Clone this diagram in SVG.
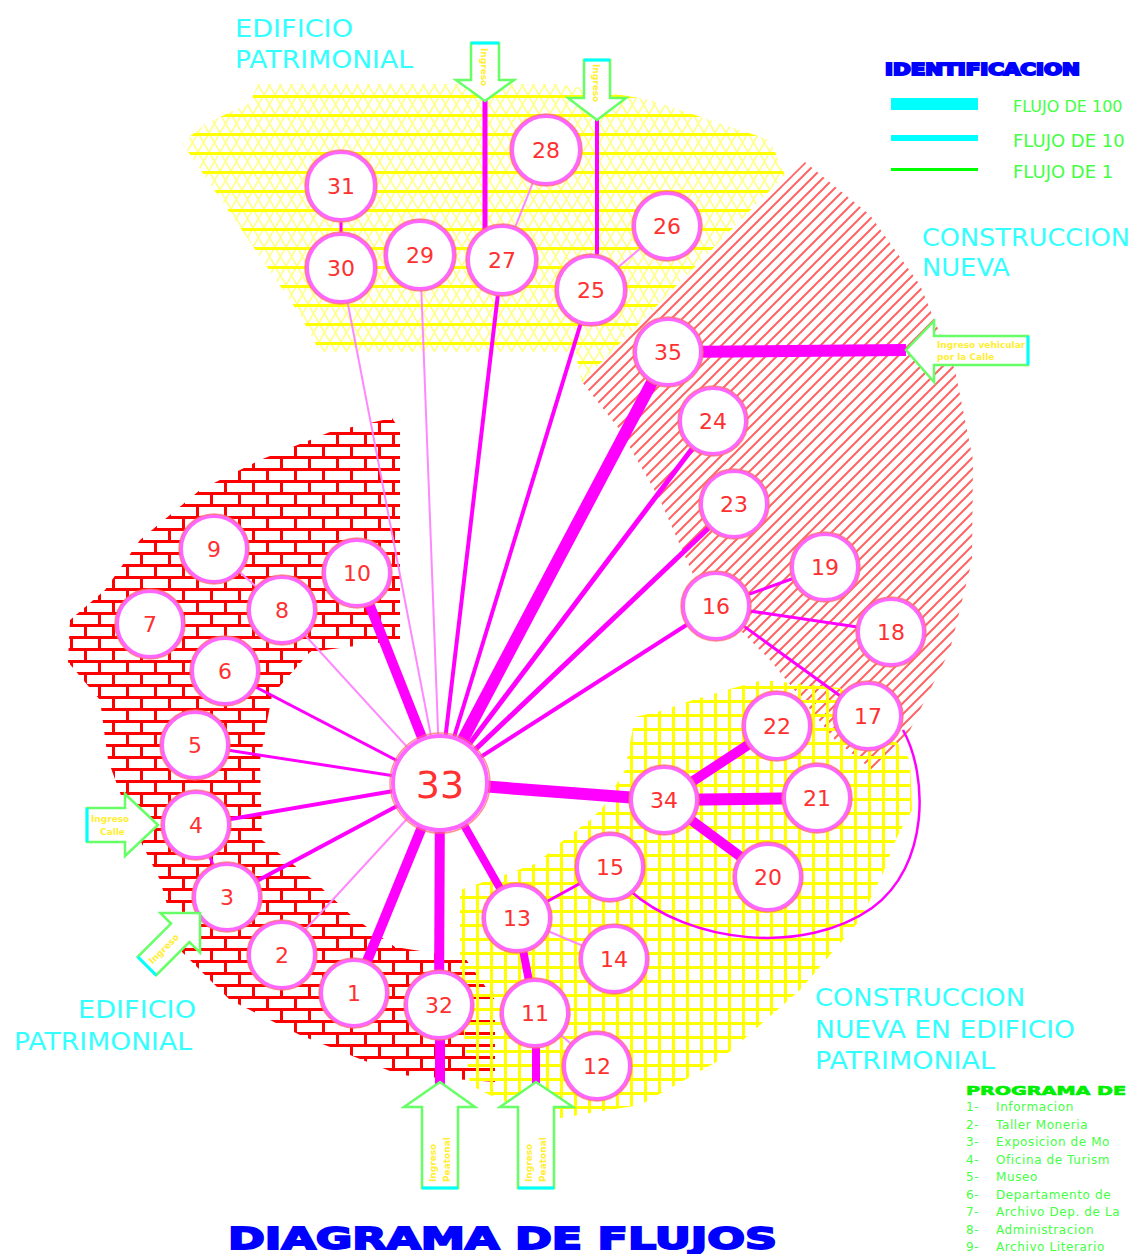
<svg xmlns="http://www.w3.org/2000/svg" width="1133" height="1254" viewBox="0 0 1133 1254">
<defs>
<style>
.nd circle.a{fill:#fff;stroke:#ff66ff;stroke-width:4}
.nd circle.b{fill:none;stroke:#ff7070;stroke-width:1.5;opacity:.75}
.nd text{font-family:"DejaVu Sans",sans-serif;font-size:22px;fill:#ff3030;text-anchor:middle}
.cx line{stroke:#ff00ff;stroke-linecap:butt}
.cx .lt{stroke:#ff88ff;stroke-width:2}
.lbl{font-family:"DejaVu Sans",sans-serif;font-size:25px;fill:#33ffff}
.arr{fill:#fff;stroke:#66ff66;stroke-width:2.5;stroke-linejoin:miter}
.cy{stroke:#00ffff;stroke-width:3}
.at{font-family:"DejaVu Sans",sans-serif;font-size:9px;font-weight:bold;fill:#ffee33}
.leg{font-family:"DejaVu Sans",sans-serif;font-size:18px;fill:#44ff44}
.pg{font-family:"DejaVu Sans",sans-serif;font-size:12px;fill:#44ff44;letter-spacing:.6px}
</style>
<pattern id="pYel" width="22" height="19" patternUnits="userSpaceOnUse">
<path d="M0,19 L11,0 L22,19 M0,0 L11,19 L22,0" stroke="#ffff88" stroke-width="1.6" fill="none"/>
<line x1="0" y1="1.5" x2="22" y2="1.5" stroke="#ffff00" stroke-width="3"/>
</pattern>
<pattern id="pHatch" width="11" height="11" patternUnits="userSpaceOnUse">
<path d="M-2,13 L13,-2 M-7,7 L7,-7 M4,18 L18,4" stroke="#ff6464" stroke-width="2" fill="none"/>
</pattern>
<pattern id="pBrick" width="28" height="24" patternUnits="userSpaceOnUse">
<path d="M0,1.5 H28 M0,13.5 H28 M1.5,0 V13.5 M15.5,12 V24" stroke="#ff0000" stroke-width="3" fill="none"/>
</pattern>
<pattern id="pGrid" width="14" height="14" patternUnits="userSpaceOnUse">
<path d="M0,1.5 H14 M1.5,0 V14" stroke="#ffff00" stroke-width="3" fill="none"/>
</pattern>
</defs>
<rect width="1133" height="1254" fill="#fff"/>

<g id="zones">
<polygon points="258,84 560,84 650,100 770,140 785,175 582,382 575,352 320,352 300,315 182,143 205,124 250,103" fill="url(#pYel)"/>
<polygon points="805,162 870,215 920,285 955,370 973,460 972,560 950,650 910,730 875,772 835,740 770,660 700,590 660,500 620,430 582,382" fill="url(#pHatch)"/>
<polygon points="392,418 400,430 400,640 310,652 272,695 260,760 262,840 313,880 353,917 395,947 465,958 495,1000 495,1082 400,1075 300,1035 230,1000 180,950 160,880 130,820 108,760 100,700 68,662 70,620 105,590 140,540 200,490 260,460 330,432" fill="url(#pBrick)"/>
<polygon points="460,890 510,873 537,863 560,843 590,820 603,807 625,770 635,717 657,712 693,700 737,687 763,680 840,688 880,720 910,760 912,810 897,837 883,873 860,920 800,990 720,1060 640,1105 560,1118 500,1100 470,1085 460,1000" fill="url(#pGrid)"/>
</g>

<g id="connectors" class="cx">
<line x1="440" y1="783" x2="341" y2="268" class="lt"/>
<line x1="440" y1="783" x2="420" y2="255" class="lt"/>
<line x1="440" y1="783" x2="282" y2="610" class="lt"/>
<line x1="440" y1="783" x2="282" y2="955" class="lt"/>
<line x1="440" y1="783" x2="502" y2="260" stroke-width="4"/>
<line x1="440" y1="783" x2="591" y2="290" stroke-width="4"/>
<line x1="440" y1="783" x2="668" y2="352" stroke-width="12"/>
<line x1="440" y1="783" x2="713" y2="421" stroke-width="5"/>
<line x1="440" y1="783" x2="734" y2="504" stroke-width="5"/>
<line x1="440" y1="783" x2="716" y2="606" stroke-width="4"/>
<line x1="440" y1="783" x2="664" y2="800" stroke-width="12"/>
<line x1="440" y1="783" x2="517" y2="918" stroke-width="8"/>
<line x1="440" y1="783" x2="439" y2="1005" stroke-width="10"/>
<line x1="440" y1="783" x2="354" y2="993" stroke-width="10"/>
<line x1="440" y1="783" x2="357" y2="573" stroke-width="10"/>
<line x1="440" y1="783" x2="225" y2="671" stroke-width="3"/>
<line x1="440" y1="783" x2="195" y2="745" stroke-width="3"/>
<line x1="440" y1="783" x2="196" y2="825" stroke-width="4"/>
<line x1="440" y1="783" x2="227" y2="897" stroke-width="4"/>
<line x1="341" y1="186" x2="341" y2="268" stroke-width="3"/>
<line x1="546" y1="150" x2="502" y2="260" class="lt"/>
<line x1="667" y1="226" x2="591" y2="290" class="lt"/>
<line x1="214" y1="549" x2="282" y2="610" class="lt"/>
<line x1="196" y1="825" x2="227" y2="897" stroke-width="3"/>
<line x1="716" y1="606" x2="825" y2="567" stroke-width="3"/>
<line x1="716" y1="606" x2="891" y2="632" stroke-width="3"/>
<line x1="716" y1="606" x2="868" y2="716" stroke-width="3"/>
<line x1="664" y1="800" x2="777" y2="726" stroke-width="10"/>
<line x1="664" y1="800" x2="817" y2="798" stroke-width="12"/>
<line x1="664" y1="800" x2="768" y2="877" stroke-width="10"/>
<line x1="517" y1="918" x2="610" y2="867" stroke-width="3"/>
<line x1="517" y1="918" x2="614" y2="959" class="lt"/>
<line x1="517" y1="918" x2="535" y2="1013" stroke-width="8"/>
<line x1="535" y1="1013" x2="597" y2="1066" class="lt"/>
<line x1="668" y1="352" x2="906" y2="350" stroke-width="12"/>
<line x1="485" y1="100" x2="485" y2="260" stroke-width="5"/>
<line x1="597" y1="120" x2="597" y2="290" stroke-width="4"/>
<line x1="440" y1="1005" x2="440" y2="1084" stroke-width="10"/>
<line x1="536" y1="1013" x2="536" y2="1084" stroke-width="8"/>
<path d="M628,889 C690,945 805,955 872,908 C930,866 928,775 903,730" fill="none" stroke="#ff00ff" stroke-width="2.5"/>
</g>

<g id="nodes">
<g id="n31" class="nd"><circle class="a" cx="341" cy="186" r="34"/><circle class="b" cx="341" cy="186" r="36"/><text x="341" y="194">31</text></g>
<g id="n30" class="nd"><circle class="a" cx="341" cy="268" r="34"/><circle class="b" cx="341" cy="268" r="36"/><text x="341" y="276">30</text></g>
<g id="n29" class="nd"><circle class="a" cx="420" cy="255" r="34"/><circle class="b" cx="420" cy="255" r="36"/><text x="420" y="263">29</text></g>
<g id="n27" class="nd"><circle class="a" cx="502" cy="260" r="34"/><circle class="b" cx="502" cy="260" r="36"/><text x="502" y="268">27</text></g>
<g id="n28" class="nd"><circle class="a" cx="546" cy="150" r="34"/><circle class="b" cx="546" cy="150" r="36"/><text x="546" y="158">28</text></g>
<g id="n26" class="nd"><circle class="a" cx="667" cy="226" r="33"/><circle class="b" cx="667" cy="226" r="35"/><text x="667" y="234">26</text></g>
<g id="n25" class="nd"><circle class="a" cx="591" cy="290" r="34"/><circle class="b" cx="591" cy="290" r="36"/><text x="591" y="298">25</text></g>
<g id="n35" class="nd"><circle class="a" cx="668" cy="352" r="33"/><circle class="b" cx="668" cy="352" r="35"/><text x="668" y="360">35</text></g>
<g id="n24" class="nd"><circle class="a" cx="713" cy="421" r="33"/><circle class="b" cx="713" cy="421" r="35"/><text x="713" y="429">24</text></g>
<g id="n23" class="nd"><circle class="a" cx="734" cy="504" r="33"/><circle class="b" cx="734" cy="504" r="35"/><text x="734" y="512">23</text></g>
<g id="n19" class="nd"><circle class="a" cx="825" cy="567" r="33"/><circle class="b" cx="825" cy="567" r="35"/><text x="825" y="575">19</text></g>
<g id="n16" class="nd"><circle class="a" cx="716" cy="606" r="33"/><circle class="b" cx="716" cy="606" r="35"/><text x="716" y="614">16</text></g>
<g id="n18" class="nd"><circle class="a" cx="891" cy="632" r="33"/><circle class="b" cx="891" cy="632" r="35"/><text x="891" y="640">18</text></g>
<g id="n17" class="nd"><circle class="a" cx="868" cy="716" r="33"/><circle class="b" cx="868" cy="716" r="35"/><text x="868" y="724">17</text></g>
<g id="n22" class="nd"><circle class="a" cx="777" cy="726" r="33"/><circle class="b" cx="777" cy="726" r="35"/><text x="777" y="734">22</text></g>
<g id="n21" class="nd"><circle class="a" cx="817" cy="798" r="33"/><circle class="b" cx="817" cy="798" r="35"/><text x="817" y="806">21</text></g>
<g id="n34" class="nd"><circle class="a" cx="664" cy="800" r="33"/><circle class="b" cx="664" cy="800" r="35"/><text x="664" y="808">34</text></g>
<g id="n20" class="nd"><circle class="a" cx="768" cy="877" r="33"/><circle class="b" cx="768" cy="877" r="35"/><text x="768" y="885">20</text></g>
<g id="n15" class="nd"><circle class="a" cx="610" cy="867" r="33"/><circle class="b" cx="610" cy="867" r="35"/><text x="610" y="875">15</text></g>
<g id="n13" class="nd"><circle class="a" cx="517" cy="918" r="33"/><circle class="b" cx="517" cy="918" r="35"/><text x="517" y="926">13</text></g>
<g id="n14" class="nd"><circle class="a" cx="614" cy="959" r="33"/><circle class="b" cx="614" cy="959" r="35"/><text x="614" y="967">14</text></g>
<g id="n11" class="nd"><circle class="a" cx="535" cy="1013" r="33"/><circle class="b" cx="535" cy="1013" r="35"/><text x="535" y="1021">11</text></g>
<g id="n12" class="nd"><circle class="a" cx="597" cy="1066" r="33"/><circle class="b" cx="597" cy="1066" r="35"/><text x="597" y="1074">12</text></g>
<g id="n32" class="nd"><circle class="a" cx="439" cy="1005" r="33"/><circle class="b" cx="439" cy="1005" r="35"/><text x="439" y="1013">32</text></g>
<g id="n1" class="nd"><circle class="a" cx="354" cy="993" r="33"/><circle class="b" cx="354" cy="993" r="35"/><text x="354" y="1001">1</text></g>
<g id="n2" class="nd"><circle class="a" cx="282" cy="955" r="33"/><circle class="b" cx="282" cy="955" r="35"/><text x="282" y="963">2</text></g>
<g id="n3" class="nd"><circle class="a" cx="227" cy="897" r="33"/><circle class="b" cx="227" cy="897" r="35"/><text x="227" y="905">3</text></g>
<g id="n4" class="nd"><circle class="a" cx="196" cy="825" r="33"/><circle class="b" cx="196" cy="825" r="35"/><text x="196" y="833">4</text></g>
<g id="n5" class="nd"><circle class="a" cx="195" cy="745" r="33"/><circle class="b" cx="195" cy="745" r="35"/><text x="195" y="753">5</text></g>
<g id="n6" class="nd"><circle class="a" cx="225" cy="671" r="33"/><circle class="b" cx="225" cy="671" r="35"/><text x="225" y="679">6</text></g>
<g id="n7" class="nd"><circle class="a" cx="150" cy="624" r="33"/><circle class="b" cx="150" cy="624" r="35"/><text x="150" y="632">7</text></g>
<g id="n8" class="nd"><circle class="a" cx="282" cy="610" r="33"/><circle class="b" cx="282" cy="610" r="35"/><text x="282" y="618">8</text></g>
<g id="n9" class="nd"><circle class="a" cx="214" cy="549" r="33"/><circle class="b" cx="214" cy="549" r="35"/><text x="214" y="557">9</text></g>
<g id="n10" class="nd"><circle class="a" cx="357" cy="573" r="33"/><circle class="b" cx="357" cy="573" r="35"/><text x="357" y="581">10</text></g>
<g id="n33" class="nd"><circle class="a" cx="440" cy="783" r="47"/><circle class="b" cx="440" cy="783" r="50"/><text x="440" y="798" style="font-size:38px">33</text></g>
</g>

<g id="entries">
<g id="e-top1"><polygon class="arr" points="471,43 499,43 499,80 514,80 485,101 456,80 471,80"/><line class="cy" x1="471" y1="43" x2="499" y2="43"/><text class="at" transform="translate(481,48) rotate(90)">Ingreso</text></g>
<g id="e-top2"><polygon class="arr" points="584,60 610,60 610,98 626,98 597,120 568,98 584,98"/><line class="cy" x1="584" y1="60" x2="610" y2="60"/><text class="at" transform="translate(593,64) rotate(90)">Ingreso</text></g>
<g id="e-right"><polygon class="arr" points="906,350 934,321 934,336 1028,336 1028,365 934,365 934,382"/><line class="cy" x1="1028" y1="336" x2="1028" y2="365"/><text class="at" x="937" y="348">Ingreso vehicular</text><text class="at" x="937" y="360">por la Calle</text></g>
<g id="e-left"><polygon class="arr" points="158,825 125,794 125,808 87,808 87,842 125,842 125,856"/><line class="cy" x1="87" y1="808" x2="87" y2="842"/><text class="at" x="91" y="822">Ingreso</text><text class="at" x="100" y="835">Calle</text></g>
<g id="e-diag" transform="translate(200,913) rotate(-45)"><polygon class="arr" points="0,0 -28,-28 -28,-13 -75,-13 -75,13 -28,13 -28,28"/><line class="cy" x1="-75" y1="-13" x2="-75" y2="13"/><text class="at" x="-70" y="3">Ingreso</text></g>
<g id="e-bot1"><polygon class="arr" points="440,1082 475,1107 458,1107 458,1188 422,1188 422,1107 404,1107"/><line class="cy" x1="422" y1="1188" x2="458" y2="1188"/><text class="at" transform="translate(436,1182) rotate(-90)">Ingreso</text><text class="at" transform="translate(450,1182) rotate(-90)">Peatonal</text></g>
<g id="e-bot2"><polygon class="arr" points="536,1082 573,1107 554,1107 554,1188 518,1188 518,1107 500,1107"/><line class="cy" x1="518" y1="1188" x2="554" y2="1188"/><text class="at" transform="translate(532,1182) rotate(-90)">Ingreso</text><text class="at" transform="translate(546,1182) rotate(-90)">Peatonal</text></g>
</g>

<g id="labels">
<text class="lbl" x="235" y="37" textLength="118" lengthAdjust="spacingAndGlyphs">EDIFICIO</text>
<text class="lbl" x="235" y="68" textLength="178" lengthAdjust="spacingAndGlyphs">PATRIMONIAL</text>
<text class="lbl" x="922" y="246" textLength="208" lengthAdjust="spacingAndGlyphs">CONSTRUCCION</text>
<text class="lbl" x="922" y="276" textLength="88" lengthAdjust="spacingAndGlyphs">NUEVA</text>
<text class="lbl" x="78" y="1018" textLength="118" lengthAdjust="spacingAndGlyphs">EDIFICIO</text>
<text class="lbl" x="14" y="1050" textLength="178" lengthAdjust="spacingAndGlyphs">PATRIMONIAL</text>
<text class="lbl" x="815" y="1006" textLength="210" lengthAdjust="spacingAndGlyphs">CONSTRUCCION</text>
<text class="lbl" x="815" y="1038" textLength="260" lengthAdjust="spacingAndGlyphs">NUEVA EN EDIFICIO</text>
<text class="lbl" x="815" y="1069" textLength="180" lengthAdjust="spacingAndGlyphs">PATRIMONIAL</text>
<text x="228" y="1249" textLength="549" lengthAdjust="spacingAndGlyphs" style="font-family:'DejaVu Sans',sans-serif;font-size:30px;font-weight:bold;fill:#0000ff;stroke:#0000ff;stroke-width:1.8">DIAGRAMA DE FLUJOS</text>
</g>

<g id="legend">
<text x="885" y="75" textLength="195" lengthAdjust="spacingAndGlyphs" style="font-family:'DejaVu Sans',sans-serif;font-size:15px;font-weight:bold;fill:#0000ff;stroke:#0000ff;stroke-width:1.8">IDENTIFICACION</text>
<rect x="891" y="98" width="87" height="12" fill="#00ffff"/>
<rect x="891" y="135" width="87" height="6" fill="#00ffff"/>
<rect x="891" y="168" width="87" height="3" fill="#00ff00"/>
<text class="leg" x="1013" y="112" style="font-size:16px">FLUJO DE 100</text>
<text class="leg" x="1013" y="147">FLUJO DE 10</text>
<text class="leg" x="1013" y="178">FLUJO DE 1</text>
</g>

<g id="programa">
<text x="966" y="1095" textLength="160" lengthAdjust="spacingAndGlyphs" style="font-family:'DejaVu Sans',sans-serif;font-size:13px;font-weight:bold;fill:#00ee00;stroke:#00ee00;stroke-width:.7">PROGRAMA DE</text>
<text class="pg" x="966" y="1111">1-</text><text class="pg" x="996" y="1111">Informacion</text>
<text class="pg" x="966" y="1128.5">2-</text><text class="pg" x="996" y="1128.5">Taller Moneria</text>
<text class="pg" x="966" y="1146">3-</text><text class="pg" x="996" y="1146">Exposicion de Mo</text>
<text class="pg" x="966" y="1163.5">4-</text><text class="pg" x="996" y="1163.5">Oficina de Turism</text>
<text class="pg" x="966" y="1181">5-</text><text class="pg" x="996" y="1181">Museo</text>
<text class="pg" x="966" y="1198.5">6-</text><text class="pg" x="996" y="1198.5">Departamento de</text>
<text class="pg" x="966" y="1216">7-</text><text class="pg" x="996" y="1216">Archivo Dep. de La</text>
<text class="pg" x="966" y="1233.5">8-</text><text class="pg" x="996" y="1233.5">Administracion</text>
<text class="pg" x="966" y="1251">9-</text><text class="pg" x="996" y="1251">Archivo Literario</text>
</g>
</svg>
